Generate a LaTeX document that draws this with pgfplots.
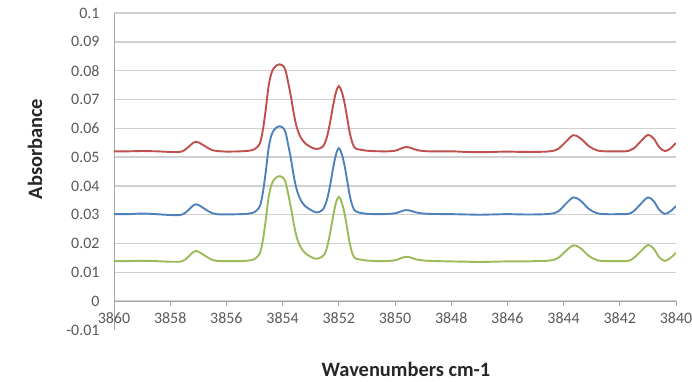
\documentclass[border=0pt]{standalone}
\usepackage{pgfplots}
\pgfplotsset{compat=1.18}
\usepackage{pgfplotstable}
\usepackage{fontspec}
\setmainfont{Carlito}

\definecolor{specRed}{HTML}{C0504D}
\definecolor{specBlue}{HTML}{4F81BD}
\definecolor{specGreen}{HTML}{9BBB59}
\definecolor{gridgray}{HTML}{D0D0D0}
\definecolor{axisgray}{HTML}{A6A6A6}
\definecolor{ticktext}{HTML}{595959}

% wavenumber, then absorbance of the three spectra
\pgfplotstableread{
wn      red     blue    green
3860.0  0.0520  0.0302  0.0139
3859.5  0.0520  0.0302  0.0139
3859.0  0.0521  0.0304  0.0140
3858.5  0.0520  0.0302  0.0139
3858.0  0.0518  0.0299  0.0137
3857.6  0.0519  0.0300  0.0138
3857.4  0.0531  0.0312  0.0150
3857.1  0.0553  0.0336  0.0174
3856.8  0.0540  0.0322  0.0160
3856.5  0.0524  0.0305  0.0143
3856.2  0.0520  0.0301  0.0139
3856.0  0.0519  0.0301  0.0139
3855.5  0.0520  0.0302  0.0139
3855.2  0.0522  0.0304  0.0141
3855.0  0.0527  0.0309  0.0146
3854.9  0.0535  0.0317  0.0154
3854.8  0.0550  0.0332  0.0169
3854.7  0.0595  0.0378  0.0213
3854.6  0.0665  0.0448  0.0281
3854.5  0.0745  0.0529  0.0359
3854.4  0.0790  0.0575  0.0403
3854.3  0.0810  0.0595  0.0422
3854.2  0.0819  0.0604  0.0431
3854.1  0.0822  0.0607  0.0434
3854.0  0.0818  0.0603  0.0430
3853.9  0.0802  0.0587  0.0415
3853.8  0.0758  0.0542  0.0372
3853.7  0.0708  0.0492  0.0323
3853.6  0.0650  0.0433  0.0267
3853.5  0.0605  0.0388  0.0223
3853.4  0.0577  0.0360  0.0196
3853.3  0.0560  0.0342  0.0179
3853.2  0.0548  0.0330  0.0167
3853.0  0.0535  0.0317  0.0154
3852.8  0.0528  0.0308  0.0147
3852.6  0.0534  0.0315  0.0154
3852.5  0.0548  0.0330  0.0164
3852.4  0.0578  0.0360  0.0194
3852.3  0.0625  0.0407  0.0241
3852.2  0.0680  0.0463  0.0296
3852.1  0.0725  0.0509  0.0341
3852.0  0.0746  0.0531  0.0362
3851.9  0.0728  0.0512  0.0344
3851.8  0.0690  0.0473  0.0306
3851.7  0.0635  0.0418  0.0251
3851.6  0.0580  0.0362  0.0196
3851.5  0.0545  0.0327  0.0161
3851.4  0.0530  0.0312  0.0148
3851.2  0.0525  0.0306  0.0144
3851.0  0.0522  0.0303  0.0141
3850.5  0.0520  0.0302  0.0139
3850.0  0.0522  0.0305  0.0142
3849.6  0.0535  0.0316  0.0154
3849.2  0.0524  0.0307  0.0144
3848.8  0.0520  0.0303  0.0140
3848.0  0.0520  0.0302  0.0138
3847.5  0.0518  0.0301  0.0137
3847.0  0.0517  0.0300  0.0136
3846.5  0.0518  0.0301  0.0137
3846.0  0.0519  0.0302  0.0138
3845.5  0.0518  0.0301  0.0138
3845.0  0.0518  0.0301  0.0139
3844.5  0.0520  0.0303  0.0141
3844.2  0.0528  0.0311  0.0150
3843.9  0.0555  0.0340  0.0176
3843.65 0.0576  0.0360  0.0194
3843.4  0.0565  0.0349  0.0184
3843.1  0.0538  0.0320  0.0157
3842.8  0.0523  0.0305  0.0142
3842.5  0.0520  0.0302  0.0139
3842.0  0.0520  0.0302  0.0139
3841.7  0.0521  0.0303  0.0140
3841.5  0.0530  0.0313  0.0150
3841.2  0.0560  0.0343  0.0178
3841.0  0.0577  0.0360  0.0195
3840.8  0.0565  0.0348  0.0183
3840.6  0.0535  0.0318  0.0153
3840.4  0.0521  0.0303  0.0140
3840.2  0.0530  0.0312  0.0150
3840.0  0.0549  0.0330  0.0168
}\spectra

\begin{document}
\begin{tikzpicture}
\begin{axis}[
  at={(114bp,52bp)}, anchor=south west,
  scale only axis, width=562bp, height=317bp,
  x dir=reverse,
  xmin=3840, xmax=3860, ymin=-0.01, ymax=0.1,
  axis x line*=middle, axis y line*=left,
  axis line style={axisgray, line width=0.9bp},
  hide obscured x ticks=false, hide obscured y ticks=false,
  xtick={3840,3842,...,3860},
  xticklabel style={font=\fontsize{16}{18}\selectfont, text=ticktext, yshift=-3bp,
    /pgf/number format/1000 sep={}, /pgf/number format/assume math mode=true},
  x tick style={axisgray, line width=0.9bp},
  tick align=outside, major tick length=5bp,
  ytick={0,0.01,0.02,0.03,0.04,0.05,0.06,0.07,0.08,0.09,0.1},
  yticklabels={0,0.01,0.02,0.03,0.04,0.05,0.06,0.07,0.08,0.09,0.1},
  extra y ticks={-0.01}, extra y tick labels={-0.01},
  extra y tick style={grid=none},
  y tick style={draw=none},
  yticklabel style={font=\fontsize{16}{18}\selectfont, text=ticktext, xshift=-6bp},
  ymajorgrids, grid style={gridgray, line width=1.4bp},
  every axis plot/.append style={line width=1.9bp, smooth, tension=0.6, no markers},
]
\addplot[specRed] table[x=wn, y=red] {\spectra};
\addplot[specBlue] table[x=wn, y=blue] {\spectra};
\addplot[specGreen] table[x=wn, y=green] {\spectra};
\end{axis}
\node[rotate=90, font=\bfseries\fontsize{20.5}{23}\selectfont, text=black!85] at (35bp,233bp) {Absorbance};
\node[font=\bfseries\fontsize{20.5}{23}\selectfont, text=black!85] at (406bp,13bp) {Wavenumbers cm-1};
\pgfresetboundingbox
\path (0,0) rectangle (692bp,382bp);
\end{tikzpicture}
\end{document}
